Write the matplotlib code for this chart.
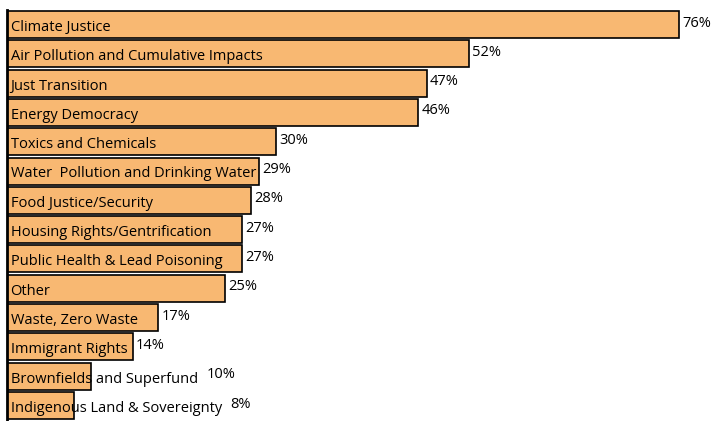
import matplotlib.pyplot as plt

topics = ['Climate Justice', 'Air Pollution and Cumulative Impacts', 'Just Transition',
          'Energy Democracy', 'Toxics and Chemicals', 'Water  Pollution and Drinking Water',
          'Food Justice/Security', 'Housing Rights/Gentrification',
          'Public Health & Lead Poisoning', 'Other', 'Waste, Zero Waste',
          'Immigrant Rights', 'Brownfields and Superfund', 'Indigenous Land & Sovereignty']
# bar lengths as drawn (unrounded), labels as printed
share = [76.0, 52.3, 47.5, 46.5, 30.4, 28.5, 27.6, 26.6, 26.6, 24.7, 17.1, 14.2, 9.5, 7.6]
pct_labels = ['76%', '52%', '47%', '46%', '30%', '29%', '28%', '27%', '27%', '25%',
              '17%', '14%', '10%', '8%']

plt.rcParams['font.family'] = ['Open Sans', 'DejaVu Sans']

fig = plt.figure(figsize=(7.11, 4.21), dpi=100)
# axes from x=7px, 8.84 px per percent
ax = fig.add_axes([7 / 711, 0, 80 * 8.84 / 711, 1])
ax.set_xlim(0, 80)
ax.set_ylim(13.53, -0.836)

ypos = list(range(len(topics)))
ax.barh(ypos, share, height=0.92, color='#F8B872', edgecolor='black', linewidth=1.2)

for s in ['top', 'right', 'bottom']:
    ax.spines[s].set_visible(False)
ax.spines['left'].set_linewidth(2)
ax.spines['left'].set_bounds(13.53, -0.48)
ax.set_xticks([])
ax.set_yticks([])

fig.canvas.draw()
r = fig.canvas.get_renderer()
inv = ax.transData.inverted()
for y, t, v, p in zip(ypos, topics, share, pct_labels):
    lab = ax.text(0.4, y + 0.1, t, va='center', ha='left', fontsize=10.5)
    bb = lab.get_window_extent(renderer=r)
    end = inv.transform((bb.x1, 0))[0]
    if end > v:
        x = end + 1.0
    else:
        x = v + 0.35
    ax.text(x, y - 0.05, p, va='center', ha='left', fontsize=10.5)

fig.savefig('out.png', dpi=100)
